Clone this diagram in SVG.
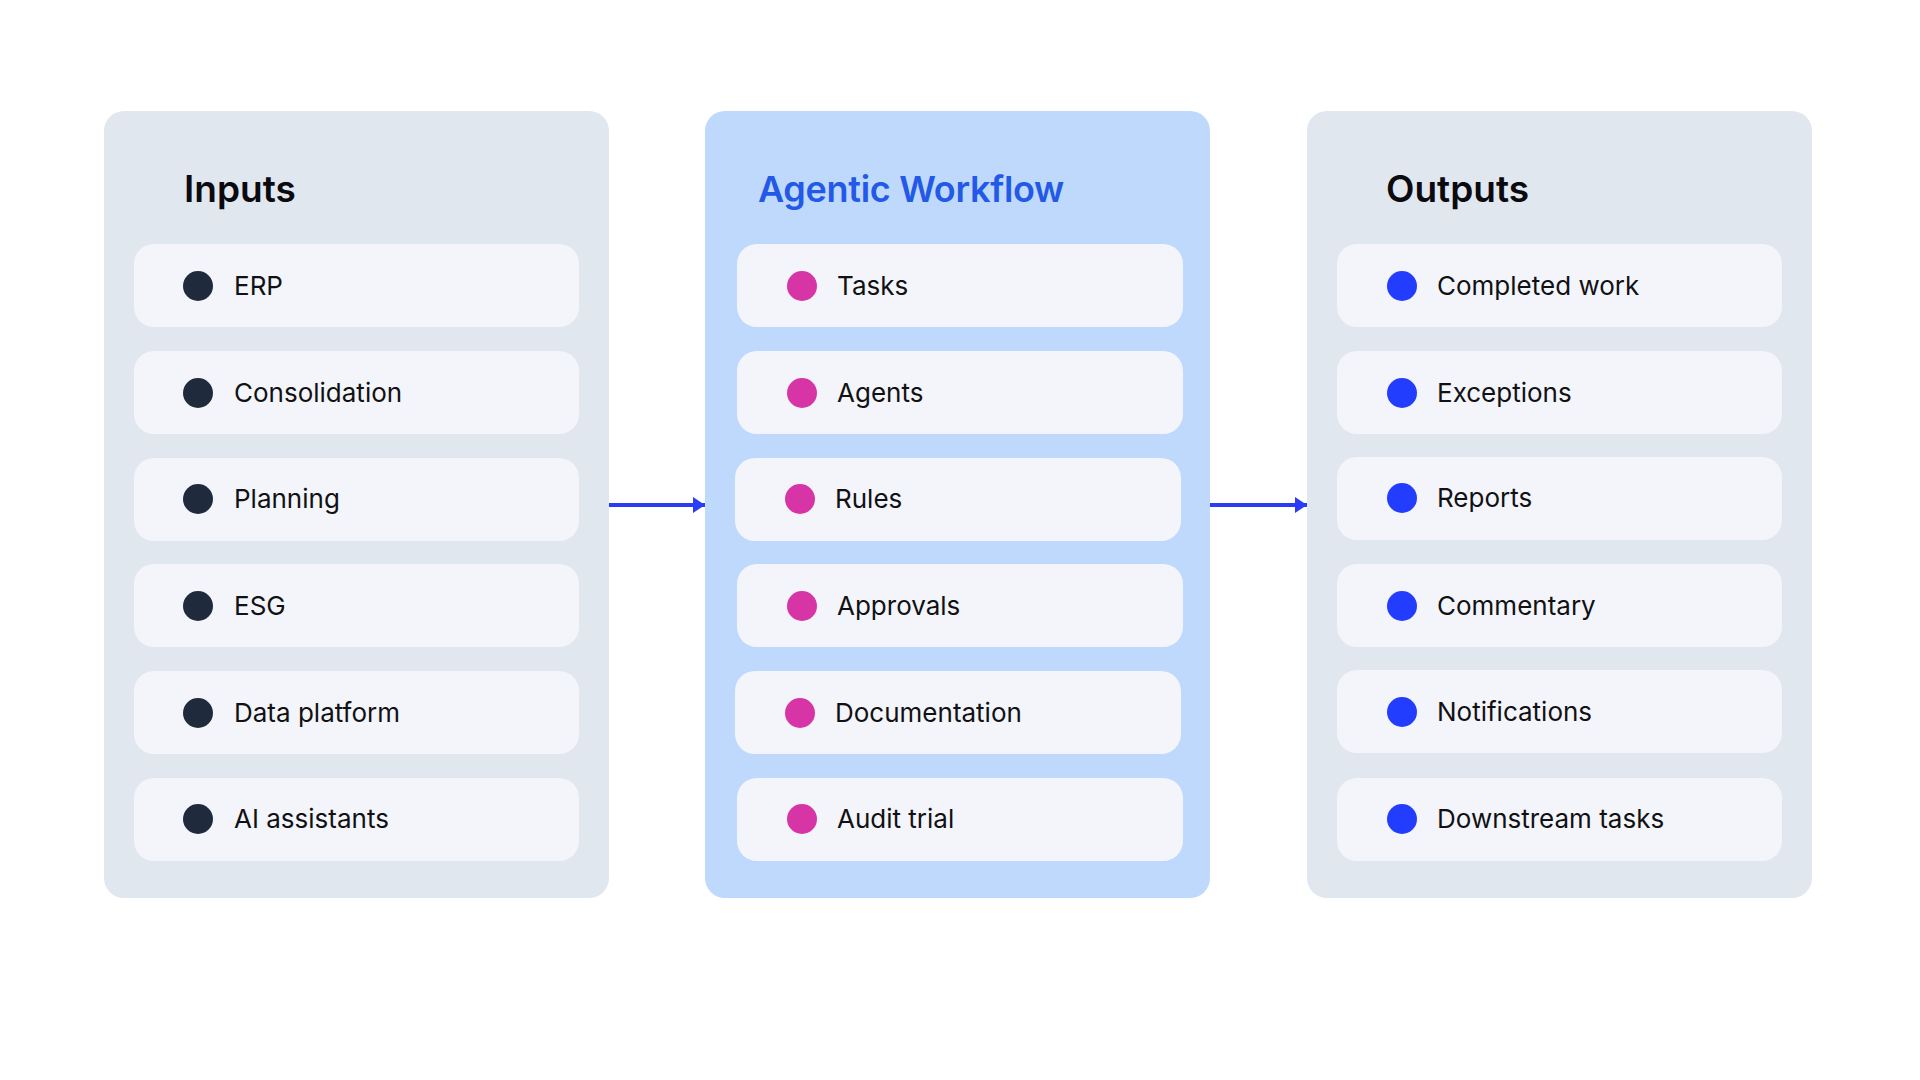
<svg xmlns="http://www.w3.org/2000/svg" width="1920" height="1080" viewBox="0 0 1920 1080">
<style>
.panel{fill:#E1E7EF}
.panel-mid{fill:#BED9FC}
.item{fill:#F3F5FA}
.title{font-family:Inter,"Noto Sans","Liberation Sans",sans-serif;font-size:37px;font-weight:600;fill:#0B0B0F}
.title-mid{fill:#2359E6;font-size:36px;letter-spacing:-0.3px}
.lbl{font-family:Inter,"Noto Sans","Liberation Sans",sans-serif;font-size:26px;font-weight:400;fill:#111114}
.d-dark{fill:#1F2A3C}
.d-pink{fill:#D735A6}
.d-blue{fill:#233DFF}
.conn{stroke:#2A3CF5;stroke-width:4;fill:none}
</style>
<defs>
<marker id="ah" viewBox="0 0 12 16" refX="12" refY="8" markerWidth="12" markerHeight="16" markerUnits="userSpaceOnUse" orient="auto">
<path d="M0,0 L12,8 L0,16 Z" fill="#2A3CF5"/>
</marker>
</defs>
<rect width="1920" height="1080" fill="#FFFFFF"/>

<g id="inputs">
<rect class="panel" x="104" y="111" width="505" height="787" rx="20"/>
<text class="title" x="184" y="202">Inputs</text>
<g id="in-erp"><rect class="item" x="134" y="244" width="445" height="83" rx="20"/><circle class="d-dark" cx="198" cy="286" r="15"/><text class="lbl" x="234" y="295">ERP</text></g>
<g id="in-consolidation"><rect class="item" x="134" y="351" width="445" height="83" rx="20"/><circle class="d-dark" cx="198" cy="393" r="15"/><text class="lbl" x="234" y="402">Consolidation</text></g>
<g id="in-planning"><rect class="item" x="134" y="458" width="445" height="83" rx="20"/><circle class="d-dark" cx="198" cy="499" r="15"/><text class="lbl" x="234" y="508">Planning</text></g>
<g id="in-esg"><rect class="item" x="134" y="564" width="445" height="83" rx="20"/><circle class="d-dark" cx="198" cy="606" r="15"/><text class="lbl" x="234" y="615">ESG</text></g>
<g id="in-data"><rect class="item" x="134" y="671" width="445" height="83" rx="20"/><circle class="d-dark" cx="198" cy="713" r="15"/><text class="lbl" x="234" y="722">Data platform</text></g>
<g id="in-ai"><rect class="item" x="134" y="778" width="445" height="83" rx="20"/><circle class="d-dark" cx="198" cy="819" r="15"/><text class="lbl" x="234" y="828">AI assistants</text></g>
</g>

<g id="workflow">
<rect class="panel-mid" x="705" y="111" width="505" height="787" rx="20"/>
<text class="title title-mid" x="758" y="202">Agentic Workflow</text>
<g id="wf-tasks"><rect class="item" x="737" y="244" width="446" height="83" rx="20"/><circle class="d-pink" cx="802" cy="286" r="15"/><text class="lbl" x="837" y="295">Tasks</text></g>
<g id="wf-agents"><rect class="item" x="737" y="351" width="446" height="83" rx="20"/><circle class="d-pink" cx="802" cy="393" r="15"/><text class="lbl" x="837" y="402">Agents</text></g>
<g id="wf-rules"><rect class="item" x="735" y="458" width="446" height="83" rx="20"/><circle class="d-pink" cx="800" cy="499" r="15"/><text class="lbl" x="835" y="508">Rules</text></g>
<g id="wf-approvals"><rect class="item" x="737" y="564" width="446" height="83" rx="20"/><circle class="d-pink" cx="802" cy="606" r="15"/><text class="lbl" x="837" y="615">Approvals</text></g>
<g id="wf-docs"><rect class="item" x="735" y="671" width="446" height="83" rx="20"/><circle class="d-pink" cx="800" cy="713" r="15"/><text class="lbl" x="835" y="722">Documentation</text></g>
<g id="wf-audit"><rect class="item" x="737" y="778" width="446" height="83" rx="20"/><circle class="d-pink" cx="802" cy="819" r="15"/><text class="lbl" x="837" y="828">Audit trial</text></g>
</g>

<g id="outputs">
<rect class="panel" x="1307" y="111" width="505" height="787" rx="20"/>
<text class="title" x="1386" y="202">Outputs</text>
<g id="out-completed"><rect class="item" x="1337" y="244" width="445" height="83" rx="20"/><circle class="d-blue" cx="1402" cy="286" r="15"/><text class="lbl" x="1437" y="295">Completed work</text></g>
<g id="out-exceptions"><rect class="item" x="1337" y="351" width="445" height="83" rx="20"/><circle class="d-blue" cx="1402" cy="393" r="15"/><text class="lbl" x="1437" y="402">Exceptions</text></g>
<g id="out-reports"><rect class="item" x="1337" y="457" width="445" height="83" rx="20"/><circle class="d-blue" cx="1402" cy="498" r="15"/><text class="lbl" x="1437" y="507">Reports</text></g>
<g id="out-commentary"><rect class="item" x="1337" y="564" width="445" height="83" rx="20"/><circle class="d-blue" cx="1402" cy="606" r="15"/><text class="lbl" x="1437" y="615">Commentary</text></g>
<g id="out-notifications"><rect class="item" x="1337" y="670" width="445" height="83" rx="20"/><circle class="d-blue" cx="1402" cy="712" r="15"/><text class="lbl" x="1437" y="721">Notifications</text></g>
<g id="out-downstream"><rect class="item" x="1337" y="778" width="445" height="83" rx="20"/><circle class="d-blue" cx="1402" cy="819" r="15"/><text class="lbl" x="1437" y="828">Downstream tasks</text></g>
</g>

<g id="connectors">
<line class="conn" x1="609" y1="505" x2="705" y2="505" marker-end="url(#ah)"/>
<line class="conn" x1="1210" y1="505" x2="1307" y2="505" marker-end="url(#ah)"/>
</g>
</svg>
